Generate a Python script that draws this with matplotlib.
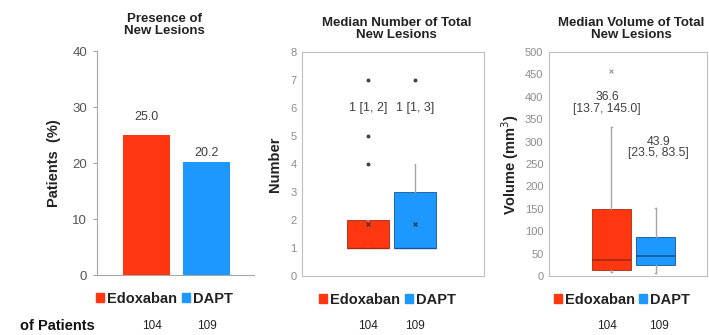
import matplotlib
matplotlib.use("Agg")
import matplotlib.pyplot as plt
import matplotlib.patches as mpatches
from matplotlib.transforms import blended_transform_factory

plt.rcParams['font.family'] = ['Liberation Sans', 'DejaVu Sans']

groups = ["Edoxaban", "DAPT"]
n_patients = [104, 109]
colors = ["#FF3710", "#1C98FF"]
median_colors = ["#A52A10", "#15549A"]

# panel 1: presence of new lesions (%)
presence = [25.0, 20.2]
presence_label_y = [28.2, 21.8]

# panel 2: number of new lesions (box stats)
num_q1 = [1, 1]
num_med = [1, 1]
num_q3 = [2, 3]
num_lo = [1, 1]
num_hi = [2, 4]
num_mean = [1.85, 1.85]
num_fliers = [[4, 5, 7], [7]]
num_labels = ["1 [1, 2]", "1 [1, 3]"]

# panel 3: volume of new lesions (mm3)
vol_q1 = [13.7, 23.5]
vol_med = [36.6, 43.9]
vol_q3 = [150, 87]
vol_lo = [10, 7]
vol_hi = [332, 152]
vol_fliers = [[457], []]
vol_labels = ["36.6\n[13.7, 145.0]", "43.9\n[23.5, 83.5]"]
vol_label_x = [-0.1, 0.07]
vol_label_y = [386, 287]

W, H = 709, 335
fig = plt.figure(figsize=(W / 100, H / 100), dpi=100)


def px_axes(left, right, top, bottom):
    return fig.add_axes([left / W, 1 - bottom / H, (right - left) / W, (bottom - top) / H])


grey = "#A6A6A6"
dark = "#404040"
title_kw = dict(fontsize=9.5, fontweight='bold', color="#222222", linespacing=1.05)

# ---- Panel 1
ax0 = px_axes(97, 254, 51, 275)
ax0.bar([0, 1], presence, width=0.78, color=colors, zorder=3)
for i, v in enumerate(presence):
    ax0.text(i, presence_label_y[i], f"{v:.1f}", ha='center', va='center', fontsize=9, color=dark)
ax0.set_ylim(0, 40)
ax0.set_xlim(-0.825, 1.79)
ax0.set_yticks(range(0, 41, 10))
ax0.set_xticks([])
for s in ['top', 'right']:
    ax0.spines[s].set_visible(False)
for s in ['left', 'bottom']:
    ax0.spines[s].set_color(grey)
ax0.tick_params(axis='y', colors=grey, labelcolor="#555555", labelsize=9.5, length=3, pad=4)
ax0.set_ylabel("Patients  (%)", fontsize=10.5, fontweight='bold', color="#222222", labelpad=8)
ax0.set_title("Presence of\nNew Lesions", pad=12, x=0.43, **title_kw)


def box_stats(q1, med, q3, lo, hi, fliers, mean=None):
    out = []
    for i in range(len(q1)):
        d = dict(q1=q1[i], med=med[i], q3=q3[i], whislo=lo[i], whishi=hi[i], fliers=fliers[i])
        if mean is not None:
            d['mean'] = mean[i]
        out.append(d)
    return out


# ---- Panel 2
ax1 = px_axes(302, 484, 52, 276)
st = box_stats(num_q1, num_med, num_q3, num_lo, num_hi, num_fliers, num_mean)
bp = ax1.bxp(st, positions=[0, 1], widths=0.89, patch_artist=True, showmeans=True, showcaps=True,
             whiskerprops=dict(color=grey, lw=1), capprops=dict(color=grey, lw=1),
             flierprops=dict(marker='o', markersize=1.8, markerfacecolor=dark, markeredgecolor=dark),
             meanprops=dict(marker='x', markersize=3, markeredgecolor="#333333", mew=0.8),
             medianprops=dict(lw=1))
for i, b in enumerate(bp['boxes']):
    b.set_facecolor(colors[i])
    b.set_edgecolor(median_colors[i])
    b.set_linewidth(0.6)
for i, m in enumerate(bp['medians']):
    m.set_color(median_colors[i])
for c in bp['caps']:
    c.set_xdata([c.get_xdata()[0] + 0.23, c.get_xdata()[1] - 0.23])
for i, t in enumerate(num_labels):
    ax1.text(i, 6, t, ha='center', va='center', fontsize=9, color=dark)
ax1.set_ylim(0, 8)
ax1.set_xlim(-1.40, 2.47)
ax1.set_xticks([])
ax1.set_yticks(range(0, 9))
for s in ax1.spines.values():
    s.set_color("#BFBFBF")
ax1.tick_params(axis='y', length=0, labelcolor="#8C8C8C", labelsize=8, pad=4)
ax1.set_ylabel("Number", fontsize=10.5, fontweight='bold', color="#222222", labelpad=6)
ax1.set_title("Median Number of Total\nNew Lesions", pad=10, x=0.52, **title_kw)

# ---- Panel 3
ax2 = px_axes(549, 707, 52, 276)
st = box_stats(vol_q1, vol_med, vol_q3, vol_lo, vol_hi, vol_fliers)
bp = ax2.bxp(st, positions=[0, 1], widths=0.9, patch_artist=True, showcaps=True,
             whiskerprops=dict(color=grey, lw=1), capprops=dict(color=grey, lw=1),
             flierprops=dict(marker='x', markersize=3, markeredgecolor="#999999", mew=0.8),
             medianprops=dict(lw=1.2))
for i, b in enumerate(bp['boxes']):
    b.set_facecolor(colors[i])
    b.set_edgecolor(median_colors[i])
    b.set_linewidth(0.6)
for i, m in enumerate(bp['medians']):
    m.set_color(median_colors[i])
for c in bp['caps']:
    c.set_xdata([c.get_xdata()[0] + 0.22, c.get_xdata()[1] - 0.22])
for i, t in enumerate(vol_labels):
    ax2.text(i + vol_label_x[i], vol_label_y[i], t, ha='center', va='center',
             fontsize=8.8, color=dark, linespacing=0.95)
ax2.set_ylim(0, 500)
ax2.set_xlim(-1.42, 2.17)
ax2.set_xticks([])
ax2.set_yticks(range(0, 501, 50))
for s in ax2.spines.values():
    s.set_color("#BFBFBF")
ax2.tick_params(axis='y', length=0, labelcolor="#8C8C8C", labelsize=8, pad=4)
ax2.set_ylabel("Volume (mm$^3$)", fontsize=10.5, fontweight='bold', color="#222222", labelpad=3)
ax2.set_title("Median Volume of Total\nNew Lesions", pad=10, x=0.52, **title_kw)

# ---- legends and patient counts
handles = [mpatches.Patch(color=colors[i], label=groups[i]) for i in range(2)]
count_shift = {ax0: [0.09, 0.0], ax1: [0.0, 0.0], ax2: [-0.1, 0.07]}
for ax, cx, cs in [(ax0, 0.43, 0.35), (ax1, 0.47, 0.3), (ax2, 0.46, 0.3)]:
    leg = ax.legend(handles=handles, loc='center', bbox_to_anchor=(cx, -0.105), ncol=2,
                    frameon=False, handlelength=0.55, handleheight=0.55, handletextpad=0.2,
                    columnspacing=cs, prop=dict(size=10.5, weight='bold'))
    for t in leg.get_texts():
        t.set_color("#222222")
    tr = blended_transform_factory(ax.transData, fig.transFigure)
    for i, n in enumerate(n_patients):
        ax.text(i + count_shift[ax][i], 1 - 326 / H, str(n), transform=tr, ha='center', va='center',
                fontsize=8.5, color="#222222")

fig.text(20 / W, 1 - 326 / H, "of Patients", ha='left', va='center', fontsize=10.5,
         fontweight='bold', color="#111111")

fig.savefig("out.png", dpi=100)
